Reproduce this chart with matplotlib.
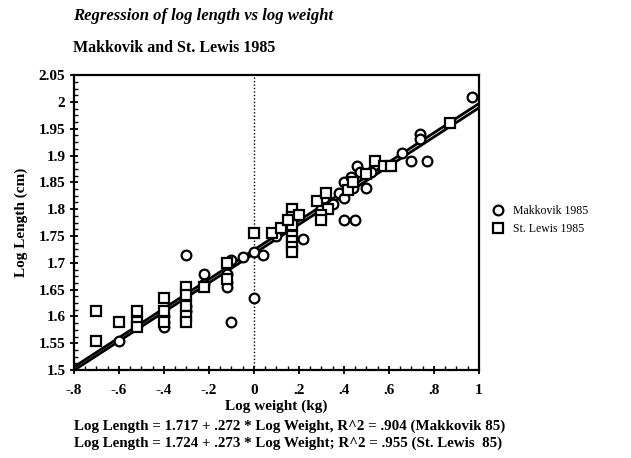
import matplotlib
matplotlib.use("Agg")
import matplotlib.pyplot as plt
from matplotlib.ticker import MultipleLocator
import numpy as np

plt.rcParams['font.family'] = ['Liberation Serif', 'DejaVu Serif']

# Makkovik 1985 (circles)
mak_x = [-0.60, -0.40, -0.40, -0.40, -0.30, -0.30, -0.30, -0.22, -0.22,
         -0.12, -0.12, -0.12, -0.12, -0.10, -0.10, -0.05, 0.00, 0.00, 0.04,
         0.10, 0.16, 0.17, 0.22, 0.30, 0.31, 0.35, 0.38, 0.40, 0.40, 0.40,
         0.45, 0.43, 0.44, 0.46, 0.47, 0.50, 0.52, 0.66, 0.70, 0.74, 0.74,
         0.77, 0.97]
mak_y = [1.555, 1.600, 1.590, 1.580, 1.715, 1.620, 1.610, 1.680, 1.660,
         1.700, 1.680, 1.665, 1.655, 1.705, 1.590, 1.710, 1.720, 1.635, 1.715,
         1.750, 1.760, 1.745, 1.745, 1.800, 1.820, 1.810, 1.830, 1.850, 1.820, 1.780,
         1.780, 1.860, 1.840, 1.880, 1.870, 1.840, 1.870, 1.905, 1.890, 1.940, 1.930,
         1.890, 2.010]

# St. Lewis 1985 (squares)
stl_x = [-0.70, -0.70, -0.60, -0.52, -0.52, -0.52, -0.40, -0.40, -0.40,
         -0.30, -0.30, -0.30, -0.30, -0.30, -0.22, -0.12, -0.12, 0.00,
         0.08, 0.12, 0.17, 0.17, 0.17, 0.17, 0.17, 0.17, 0.17, 0.20, 0.15,
         0.28, 0.32, 0.33, 0.30, 0.30, 0.42, 0.44, 0.50, 0.54, 0.58, 0.61, 0.87]
stl_y = [1.610, 1.555, 1.590, 1.610, 1.590, 1.580, 1.635, 1.610, 1.590,
         1.655, 1.640, 1.620, 1.600, 1.590, 1.655, 1.700, 1.670, 1.755,
         1.755, 1.765, 1.800, 1.785, 1.770, 1.750, 1.740, 1.730, 1.720, 1.790, 1.780,
         1.815, 1.830, 1.800, 1.790, 1.780, 1.835, 1.850, 1.865, 1.890, 1.880, 1.880, 1.960]

# Regression fits
mak_fit = (1.717, 0.272)
stl_fit = (1.724, 0.273)

xticks = [-0.8, -0.6, -0.4, -0.2, 0, 0.2, 0.4, 0.6, 0.8, 1.0]
xticklabels = ['-.8', '-.6', '-.4', '-.2', '0', '.2', '.4', '.6', '.8', '1']
yticks = [1.5, 1.55, 1.6, 1.65, 1.7, 1.75, 1.8, 1.85, 1.9, 1.95, 2.0, 2.05]
yticklabels = ['1.5', '1.55', '1.6', '1.65', '1.7', '1.75', '1.8', '1.85', '1.9', '1.95', '2', '2.05']

fig = plt.figure(figsize=(6.31, 4.58), dpi=100)
ax = fig.add_axes([0.117, 0.192, 0.642, 0.644])

ax.axvline(0, color='black', lw=1.0, ls=(0, (1, 1.5)), zorder=1)

xl = np.array([-0.8, 1.0])
ax.plot(xl, mak_fit[0] + mak_fit[1] * xl, color='black', lw=2.0, zorder=2)
ax.plot(xl, stl_fit[0] + stl_fit[1] * xl, color='black', lw=2.0, zorder=2)

ax.plot(mak_x, mak_y, ls='none', marker='o', ms=7, mfc='white', mec='black',
        mew=1.6, label='Makkovik 1985', zorder=3)
ax.plot(stl_x, stl_y, ls='none', marker='s', ms=7, mfc='white', mec='black',
        mew=1.6, label='St. Lewis 1985', zorder=3)

ax.set_xlim(-0.8, 1.0)
ax.set_ylim(1.5, 2.05)
ax.set_xticks(xticks)
ax.set_xticklabels(xticklabels)
ax.set_yticks(yticks)
ax.set_yticklabels(yticklabels)
ax.xaxis.set_minor_locator(MultipleLocator(0.05))
ax.yaxis.set_minor_locator(MultipleLocator(0.0125))
ax.tick_params(axis='both', which='major', direction='inout', length=6, width=1.3,
               labelsize=11)
ax.tick_params(axis='x', which='major', pad=7)
ax.tick_params(axis='y', which='major', pad=3)
ax.tick_params(axis='both', which='minor', direction='in', length=3, width=1.0)
for lab in ax.get_xticklabels() + ax.get_yticklabels():
    lab.set_fontweight('bold')
for s in ax.spines.values():
    s.set_linewidth(1.6)

ax.set_xlabel('Log weight (kg)', fontsize=11, fontweight='bold', labelpad=2)
ax.set_ylabel('Log Length (cm)', fontsize=11, fontweight='bold', labelpad=8)

fig.text(0.115, 0.965, 'Regression of log length vs log weight', fontsize=12,
         fontweight='bold', style='italic', ha='left', va='center')
fig.text(0.115, 0.895, 'Makkovik and St. Lewis 1985', fontsize=11.5,
         fontweight='bold', ha='left', va='center')

eq1 = 'Log Length = %.3f + %s * Log Weight, R^2 = .904 (Makkovik 85)' % (mak_fit[0], ('%.3f' % mak_fit[1])[1:])
eq2 = 'Log Length = %.3f + %s * Log Weight; R^2 = .955 (St. Lewis  85)' % (stl_fit[0], ('%.3f' % stl_fit[1])[1:])
fig.text(0.118, 0.069, eq1, fontsize=10.8, fontweight='bold', ha='left', va='center')
fig.text(0.118, 0.032, eq2, fontsize=10.8, fontweight='bold', ha='left', va='center')

leg = fig.legend(loc='upper left', bbox_to_anchor=(0.77, 0.565), frameon=False,
                 fontsize=8.5, handletextpad=0.8, labelspacing=0.5, handlelength=1.0,
                 borderpad=0)

fig.savefig('out.png', dpi=100)
